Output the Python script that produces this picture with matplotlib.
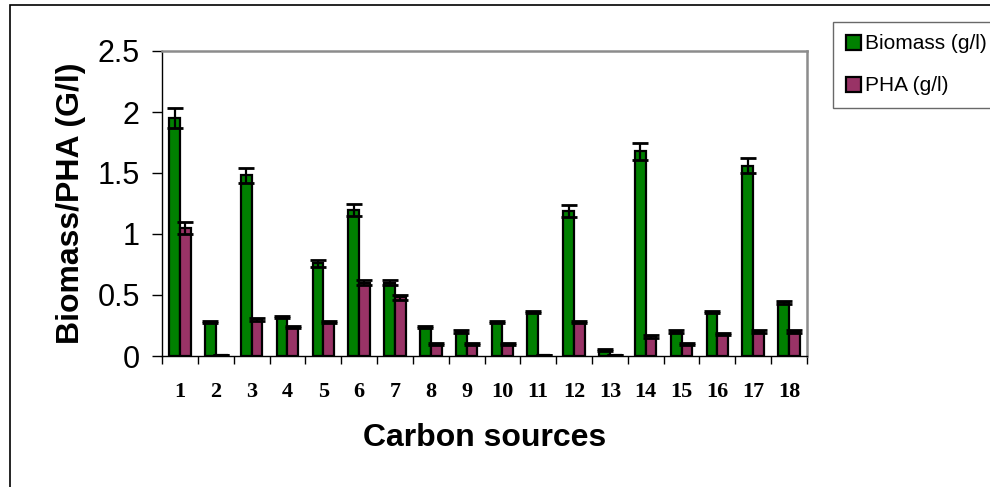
import matplotlib
matplotlib.use('Agg')
import matplotlib.pyplot as plt
import numpy as np
from matplotlib.patches import Rectangle

plt.rcParams['font.family'] = ['Liberation Sans', 'DejaVu Sans']

# data
sources = [str(i) for i in range(1, 19)]
biomass = [1.95, 0.28, 1.48, 0.32, 0.76, 1.20, 0.60, 0.24, 0.20,
           0.28, 0.36, 1.19, 0.05, 1.68, 0.20, 0.36, 1.56, 0.44]
biomass_err = [0.08, 0.01, 0.06, 0.01, 0.03, 0.05, 0.02, 0.01, 0.01,
               0.01, 0.01, 0.05, 0.01, 0.07, 0.01, 0.01, 0.06, 0.01]
pha = [1.05, 0.005, 0.30, 0.24, 0.28, 0.60, 0.48, 0.10, 0.10,
       0.10, 0.005, 0.28, 0.005, 0.16, 0.10, 0.18, 0.20, 0.20]
pha_err = [0.05, 0.0, 0.01, 0.01, 0.01, 0.02, 0.02, 0.01, 0.01,
           0.01, 0.0, 0.01, 0.0, 0.01, 0.01, 0.01, 0.01, 0.01]

green = '#008000'
plum = '#993366'

fig = plt.figure(figsize=(9.9, 4.87), dpi=100)
ax = fig.add_axes([162/990, 1-356/487, (807-162)/990, (356-51)/487])

x = np.arange(len(sources))
w = 0.3
err_kw = dict(ecolor='black', elinewidth=1.6, capsize=5.5, capthick=2.0)
ax.bar(x - w/2, biomass, w, yerr=biomass_err, color=green, edgecolor='black',
       linewidth=1.6, label='Biomass (g/l)', error_kw=err_kw, zorder=2)
ax.bar(x + w/2, pha, w, yerr=pha_err, color=plum, edgecolor='black',
       linewidth=1.6, label='PHA (g/l)', error_kw=err_kw, zorder=2)

ax.set_xlim(-0.5, len(sources) - 0.5)
ax.set_ylim(0, 2.5)
ax.set_yticks([0, 0.5, 1, 1.5, 2, 2.5])
ax.set_yticklabels(['0', '0.5', '1', '1.5', '2', '2.5'], fontsize=22)

# labels centred, tick marks at category boundaries
ax.set_xticks(x)
ax.set_xticklabels(sources, fontsize=16, fontweight='bold',
                   family=['Liberation Serif', 'DejaVu Serif'])
ax.tick_params(axis='x', which='major', length=0, pad=19)
ax.set_xticks(np.arange(-0.5, len(sources)), minor=True)
ax.tick_params(axis='x', which='minor', length=6, width=1, direction='out')
ax.tick_params(axis='y', length=7, width=1, direction='out', pad=9)

for s in ['top', 'right']:
    ax.spines[s].set_color('#8c8c8c')
    ax.spines[s].set_linewidth(1.8)
for s in ['left', 'bottom']:
    ax.spines[s].set_color('black')
    ax.spines[s].set_linewidth(1.0)

ax.set_ylabel('Biomass/PHA (G/l)', fontsize=23, fontweight='bold', labelpad=8)
ax.set_xlabel('Carbon sources', fontsize=23, fontweight='bold', labelpad=15)

leg = fig.legend(loc='upper left', bbox_to_anchor=(833/990, 1-22/487),
                 fontsize=15, frameon=True, fancybox=False,
                 handlelength=0.75, handleheight=0.75, handletextpad=0.2,
                 labelspacing=1.1, borderpad=0.6, borderaxespad=0)
leg.get_frame().set_edgecolor('#444444')
leg.get_frame().set_linewidth(1.0)

# outer chart frame (right/bottom edges fall outside the picture)
fig.patches.append(Rectangle((10/990, -0.5), 1.5, 1.5 - 5/487, transform=fig.transFigure,
                             fill=False, edgecolor='black', linewidth=1.2))

fig.savefig('out.png', dpi=100)
